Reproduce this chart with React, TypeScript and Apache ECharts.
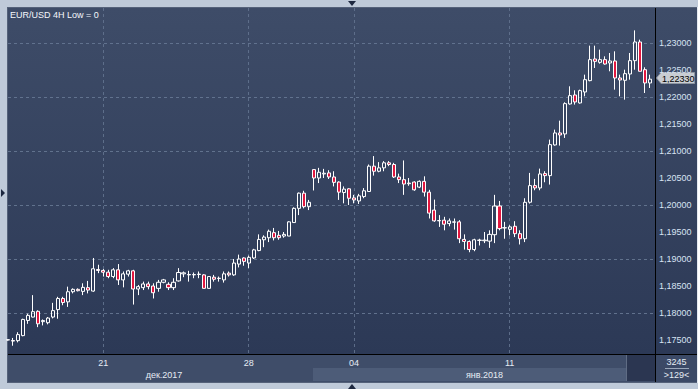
import React, { useEffect, useRef } from 'react';
import * as echarts from 'echarts';

const title = 'EUR/USD 4H Low = 0';
const open = [
  1.175, 1.1749, 1.17488, 1.17581, 1.17862, 1.17925, 1.18031, 1.1784, 1.1782, 1.17925,
  1.18063, 1.18269, 1.18206, 1.18394, 1.18438, 1.184, 1.18469, 1.18406, 1.18806, 1.18788,
  1.18756, 1.18675, 1.188, 1.18613, 1.18719, 1.18781, 1.18444, 1.18469, 1.18538, 1.185,
  1.18456, 1.18569, 1.18531, 1.18469, 1.18594, 1.18725, 1.18713, 1.18706, 1.18713, 1.18706,
  1.18456, 1.18663, 1.18638, 1.18613, 1.18738, 1.18706, 1.18906, 1.19019, 1.18925, 1.19019,
  1.19156, 1.19356, 1.19394, 1.19488, 1.19438, 1.19425, 1.19425, 1.19675, 1.19938, 1.20219,
  1.19969, 1.20656, 1.205, 1.20575, 1.20594, 1.20519, 1.20425, 1.20231, 1.203, 1.20131,
  1.20075, 1.20156, 1.2025, 1.20719, 1.20625, 1.20688, 1.20781, 1.2075, 1.20519, 1.20469,
  1.20406, 1.20425, 1.20331, 1.20438, 1.20238, 1.19906, 1.19713, 1.19719, 1.19656, 1.19681,
  1.19688, 1.19363, 1.19325, 1.19175, 1.19344, 1.19338, 1.19331, 1.1945, 1.19981, 1.19575,
  1.1955, 1.19606, 1.19469, 1.19375, 1.20051, 1.20359, 1.20316, 1.20581, 1.20544, 1.21112,
  1.21334, 1.21316, 1.21871, 1.22037, 1.2189, 1.22093, 1.22303, 1.22704, 1.22642, 1.22692,
  1.2263, 1.22667, 1.22352, 1.22309, 1.22426, 1.22673, 1.23019, 1.22506, 1.2226,
];
const close = [
  1.17505, 1.1748, 1.176, 1.17881, 1.17956, 1.18025, 1.178, 1.1786, 1.17906, 1.18044,
  1.18269, 1.18194, 1.18394, 1.18438, 1.18413, 1.18475, 1.18425, 1.18819, 1.18788, 1.18756,
  1.18675, 1.188, 1.18613, 1.18725, 1.18781, 1.18444, 1.18488, 1.18538, 1.18488, 1.18375,
  1.18569, 1.18613, 1.18469, 1.18569, 1.1875, 1.18744, 1.18706, 1.18713, 1.1872, 1.18456,
  1.18675, 1.18625, 1.18644, 1.18725, 1.18706, 1.18925, 1.19, 1.18956, 1.19031, 1.19169,
  1.19363, 1.19406, 1.19513, 1.19394, 1.19394, 1.19456, 1.19688, 1.19938, 1.20219, 1.19969,
  1.2005, 1.205, 1.20606, 1.20588, 1.20519, 1.20419, 1.20238, 1.20294, 1.20125, 1.20094,
  1.20169, 1.20263, 1.20719, 1.20625, 1.20688, 1.20781, 1.2075, 1.20519, 1.20469, 1.20388,
  1.20394, 1.20281, 1.20438, 1.20238, 1.1985, 1.19706, 1.19706, 1.19644, 1.19706, 1.19688,
  1.19375, 1.19325, 1.19175, 1.19356, 1.1935, 1.1935, 1.19456, 1.19981, 1.19563, 1.1958,
  1.19594, 1.19469, 1.19375, 1.2005, 1.20359, 1.20316, 1.20575, 1.20544, 1.21118, 1.21334,
  1.21297, 1.21877, 1.22025, 1.21908, 1.22118, 1.22321, 1.22692, 1.2266, 1.22692, 1.22611,
  1.22667, 1.22352, 1.22315, 1.22432, 1.22673, 1.23019, 1.22476, 1.2226, 1.2233,
];
const low = [
  1.1749, 1.17394, 1.17456, 1.17569, 1.178, 1.1792, 1.17738, 1.1777, 1.1779, 1.179,
  1.17894, 1.18144, 1.18113, 1.18363, 1.184, 1.18331, 1.18363, 1.18394, 1.18738, 1.18675,
  1.18644, 1.18644, 1.18519, 1.18475, 1.18675, 1.18156, 1.18331, 1.18425, 1.18438, 1.18269,
  1.18394, 1.1855, 1.18425, 1.18425, 1.18581, 1.18663, 1.18581, 1.18644, 1.18644, 1.18456,
  1.18456, 1.18581, 1.18581, 1.18563, 1.18675, 1.18688, 1.18844, 1.18875, 1.18831, 1.19,
  1.19144, 1.19219, 1.19313, 1.19344, 1.19356, 1.19394, 1.19425, 1.19669, 1.19813, 1.19938,
  1.19906, 1.20269, 1.20406, 1.205, 1.20481, 1.20344, 1.20094, 1.20031, 1.2, 1.20031,
  1.20019, 1.20125, 1.2025, 1.20544, 1.20606, 1.20625, 1.20719, 1.205, 1.20406, 1.20188,
  1.20356, 1.20263, 1.20313, 1.20156, 1.1975, 1.19688, 1.19594, 1.19531, 1.19606, 1.19544,
  1.19294, 1.19175, 1.19125, 1.19144, 1.1925, 1.19294, 1.19206, 1.19294, 1.19531, 1.19375,
  1.19438, 1.19406, 1.19269, 1.19313, 1.20026, 1.20273, 1.20273, 1.20421, 1.20378, 1.211,
  1.211, 1.21242, 1.21859, 1.21859, 1.21877, 1.22013, 1.22291, 1.22537, 1.22617, 1.22599,
  1.22476, 1.22136, 1.22013, 1.21951, 1.22321, 1.22506, 1.22476, 1.22074, 1.22167,
];
const high = [
  1.1751, 1.17538, 1.17644, 1.17894, 1.17987, 1.18331, 1.1805, 1.1788, 1.17925, 1.18188,
  1.183, 1.183, 1.18488, 1.18456, 1.18456, 1.1855, 1.18594, 1.19019, 1.18894, 1.18813,
  1.188, 1.18831, 1.18906, 1.18769, 1.188, 1.188, 1.18519, 1.18581, 1.18581, 1.1855,
  1.18613, 1.18631, 1.18569, 1.18644, 1.18831, 1.18769, 1.18781, 1.1875, 1.18769, 1.18719,
  1.18675, 1.18706, 1.18675, 1.18769, 1.18769, 1.19, 1.19081, 1.19031, 1.19063, 1.19188,
  1.19456, 1.19438, 1.19544, 1.19575, 1.19519, 1.195, 1.197, 1.19956, 1.20231, 1.20263,
  1.20094, 1.20656, 1.20688, 1.20669, 1.20644, 1.20625, 1.20438, 1.20344, 1.20313, 1.20188,
  1.20206, 1.20313, 1.2075, 1.20906, 1.20794, 1.20813, 1.20813, 1.20781, 1.20581, 1.20825,
  1.205, 1.20438, 1.20456, 1.20531, 1.20281, 1.201, 1.19813, 1.19781, 1.1975, 1.1975,
  1.19719, 1.19456, 1.19344, 1.19375, 1.19375, 1.195, 1.19531, 1.20188, 1.20075, 1.19688,
  1.19625, 1.197, 1.19531, 1.20125, 1.20594, 1.20483, 1.20674, 1.20625, 1.21211, 1.21396,
  1.21562, 1.21902, 1.22198, 1.22124, 1.22136, 1.22414, 1.22951, 1.22951, 1.22877, 1.22753,
  1.22815, 1.22846, 1.22414, 1.22506, 1.22815, 1.23234, 1.23062, 1.2255, 1.22414,
];
const priceTicks = [
  1.175, 1.18, 1.185, 1.19, 1.195, 1.2, 1.205, 1.21, 1.215, 1.22, 1.225, 1.23,
];
const dayTickIndex = [19, 48, 69, 100];
const dayTickLabels = ['21', '28', '04', '11'];
const monthLabels = ['дек.2017', 'янв.2018'];
const lastPriceLabel = '1,22330';
const barCountLabel = '3245';
const visibleBarsLabel = '>129<';
const yMin = 1.172407;
const yMax = 1.236481;
const yStep = 0.005;

const FONT = '"Liberation Sans", Arial, sans-serif';

export default function App() {
  const ref = useRef<HTMLDivElement>(null);

  useEffect(() => {
    const chart = echarts.init(ref.current!, null, { renderer: 'svg' });
    const n = open.length;
    const categories = Array.from({ length: n + 1 }, (_, i) => String(i));
    const tickMap = new Map<number, string>(dayTickIndex.map((idx, k) => [idx, dayTickLabels[k]]));
    const data = open.map((o, i) => [o, close[i], low[i], high[i]]);
    const grid = 'rgba(98,114,142,0.9)';
    const shown = (v: number) => priceTicks.some((t) => Math.abs(t - v) < 1e-7);

    chart.setOption({
      animation: false,
      backgroundColor: 'transparent',
      grid: { left: 8, top: 8, width: 647, height: 346, containLabel: false },
      xAxis: {
        type: 'category',
        data: categories,
        boundaryGap: false,
        axisLine: { show: false },
        axisTick: { show: false },
        axisLabel: {
          interval: (i: number) => tickMap.has(i),
          formatter: (_v: string, i: number) => tickMap.get(i) ?? '',
          color: '#e6ecf4',
          fontSize: 9,
          fontFamily: FONT,
          margin: 4,
        },
        splitLine: {
          show: true,
          interval: (i: number) => tickMap.has(i),
          lineStyle: { color: grid, type: [3, 3], width: 1 },
        },
      },
      yAxis: {
        type: 'value',
        position: 'right',
        min: yMin,
        max: yMax,
        splitNumber: 13,
        minInterval: yStep,
        maxInterval: yStep,
        scale: true,
        axisLine: { show: false },
        axisTick: { show: false },
        axisLabel: {
          color: '#d7e3f3',
          fontSize: 9,
          fontFamily: FONT,
          margin: 4,
          formatter: (v: number) => (shown(v) ? v.toFixed(5).replace('.', ',') : ''),
        },
        splitLine: { show: false },
      },
      series: [
        {
          type: 'candlestick',
          data,
          barWidth: 3.6,
          clip: true,
          itemStyle: {
            color: 'rgba(0,0,0,0)',
            color0: '#e2173f',
            borderColor: '#ffffff',
            borderColor0: '#ffffff',
            borderWidth: 1,
          },
          markLine: {
            silent: true,
            z: 1,
            symbol: ['none', 'none'],
            label: { show: false },
            emphasis: { disabled: true },
            lineStyle: { color: grid, type: [3, 3], width: 1 },
            data: priceTicks.map((v) => ({ yAxis: v })),
          },
        },
      ],
      graphic: [
        {
          type: 'text',
          x: 10,
          y: 15,
          style: { text: title, fill: '#f4f7fb', font: `9px ${FONT}`, align: 'left', verticalAlign: 'middle' },
        },
        {
          type: 'text',
          x: 164,
          y: 374.5,
          style: { text: monthLabels[0], fill: '#e6ecf4', font: `9px ${FONT}`, align: 'center', verticalAlign: 'middle' },
        },
        {
          type: 'text',
          x: 484.5,
          y: 374.5,
          style: { text: monthLabels[1], fill: '#e6ecf4', font: `9px ${FONT}`, align: 'center', verticalAlign: 'middle' },
        },
        {
          type: 'polygon',
          shape: { points: [[656.5, 78], [661, 72.5], [694.5, 72.5], [694.5, 83.5], [661, 83.5]] },
          style: { fill: '#c9cdd3', stroke: '#8e96a2', lineWidth: 1 },
        },
        {
          type: 'text',
          x: 662,
          y: 78.5,
          style: { text: lastPriceLabel, fill: '#000000', font: `9px ${FONT}`, align: 'left', verticalAlign: 'middle' },
        },
        {
          type: 'text',
          x: 676.5,
          y: 362,
          style: { text: barCountLabel, fill: '#e6ecf4', font: `9px ${FONT}`, align: 'center', verticalAlign: 'middle' },
        },
        {
          type: 'line',
          shape: { x1: 665, y1: 368.5, x2: 689, y2: 368.5 },
          style: { stroke: '#9aa7ba', lineWidth: 1 },
        },
        {
          type: 'text',
          x: 676.5,
          y: 374.5,
          style: { text: visibleBarsLabel, fill: '#e6ecf4', font: `9px ${FONT}`, align: 'center', verticalAlign: 'middle' },
        },
        {
          type: 'polygon',
          shape: { points: [[348, 1], [356, 1], [352, 6]] },
          style: { fill: '#1d2840' },
        },
        {
          type: 'polygon',
          shape: { points: [[348, 389], [356, 389], [352, 384]] },
          style: { fill: '#1d2840' },
        },
        {
          type: 'polygon',
          shape: { points: [[1, 189], [1, 197], [5, 193]] },
          style: { fill: '#1d2840' },
        },
      ],
    });
    return () => chart.dispose();
  }, []);

  const abs = (s: React.CSSProperties): React.CSSProperties => ({ position: 'absolute', ...s });

  return (
    <div style={{ position: 'fixed', left: 0, top: 0, width: 698, height: 389, background: '#bfcad9', overflow: 'hidden' }}>
      <div style={abs({ left: 7, top: 7, width: 690, height: 376, background: '#55627a' })} />
      <div style={abs({ left: 8, top: 8, width: 689, height: 346, background: 'linear-gradient(#3e4c68, #2c3956)' })} />
      <div style={abs({ left: 8, top: 355, width: 689, height: 27, background: '#3f4d69' })} />
      <div style={abs({ left: 313, top: 368, width: 313, height: 13, background: '#4d5c78' })} />
      <div style={abs({ left: 626, top: 355, width: 1, height: 26, background: '#5f6c84' })} />
      <div style={abs({ left: 627, top: 355, width: 28, height: 26, background: '#2b3651' })} />
      <div style={abs({ left: 656, top: 355, width: 41, height: 27, background: '#3b4966' })} />
      <div style={abs({ left: 655, top: 8, width: 1, height: 374, background: '#000000' })} />
      <div style={abs({ left: 8, top: 354, width: 689, height: 1, background: '#000000' })} />
      <div style={abs({ left: 697, top: 7, width: 1, height: 376, background: '#e4e9f0' })} />
      <div ref={ref} style={abs({ left: 0, top: 0, width: 698, height: 389 })} />
    </div>
  );
}
